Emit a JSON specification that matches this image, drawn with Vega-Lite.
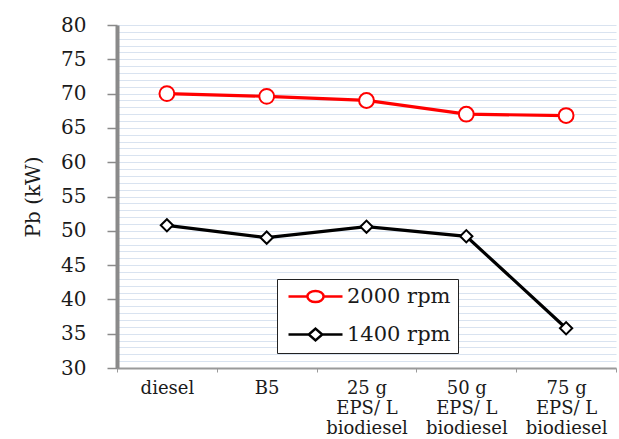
{
  "$schema": "https://vega.github.io/schema/vega-lite/v6.json",
  "autosize": "none",
  "width": 499,
  "height": 343,
  "padding": {"left": 117, "top": 25, "right": 3, "bottom": 71},
  "background": "white",
  "config": {
    "view": {"stroke": null},
    "font": "DejaVu Serif"
  },
  "data": {
    "values": [
      {"fuel": "diesel", "series": "2000 rpm", "pb": 70.0},
      {"fuel": "B5", "series": "2000 rpm", "pb": 69.6},
      {"fuel": "25 g|EPS/ L|biodiesel", "series": "2000 rpm", "pb": 69.0},
      {"fuel": "50 g|EPS/ L|biodiesel", "series": "2000 rpm", "pb": 67.0},
      {"fuel": "75 g|EPS/ L|biodiesel", "series": "2000 rpm", "pb": 66.8},
      {"fuel": "diesel", "series": "1400 rpm", "pb": 50.8},
      {"fuel": "B5", "series": "1400 rpm", "pb": 49.0},
      {"fuel": "25 g|EPS/ L|biodiesel", "series": "1400 rpm", "pb": 50.6},
      {"fuel": "50 g|EPS/ L|biodiesel", "series": "1400 rpm", "pb": 49.2},
      {"fuel": "75 g|EPS/ L|biodiesel", "series": "1400 rpm", "pb": 35.8}
    ]
  },
  "encoding": {
    "x": {
      "field": "fuel",
      "type": "nominal",
      "sort": ["diesel", "B5", "25 g|EPS/ L|biodiesel", "50 g|EPS/ L|biodiesel", "75 g|EPS/ L|biodiesel"],
      "scale": {"paddingInner": 0, "paddingOuter": 0},
      "axis": {
        "title": null,
        "labelAngle": 0,
        "labelExpr": "split(datum.label, '|')",
        "labelFont": "DejaVu Serif",
        "labelFontSize": 18,
        "labelColor": "#1a1a1a",
        "labelLineHeight": 20,
        "labelBaseline": "top",
        "labelPadding": 7,
        "tickBand": "extent",
        "tickSize": 4,
        "tickColor": "#9a9a9a",
        "domainColor": "#9a9a9a",
        "domainWidth": 2,
        "grid": false
      }
    },
    "y": {
      "field": "pb",
      "type": "quantitative",
      "scale": {"domain": [30, 80], "nice": false, "zero": false},
      "axis": {
        "title": "Pb (kW)",
        "titleFont": "DejaVu Serif",
        "titleFontSize": 20,
        "titleFontWeight": "normal",
        "titleColor": "#1a1a1a",
        "titlePadding": 17,
        "values": [30,31,32,33,34,35,36,37,38,39,40,41,42,43,44,45,46,47,48,49,50,51,52,53,54,55,56,57,58,59,60,61,62,63,64,65,66,67,68,69,70,71,72,73,74,75,76,77,78,79,80],
        "labelExpr": "datum.value % 5 === 0 ? datum.label : ''",
        "labelFont": "DejaVu Serif",
        "labelFontSize": 20,
        "labelColor": "#1a1a1a",
        "labelPadding": 21,
        "tickSize": 10,
        "tickColor": "#8a8a8a",
        "tickWidth": 1.5,
        "tickOpacity": {"expr": "datum.value % 5 === 0 ? 1 : 0"},
        "domainColor": "#8a8a8a",
        "domainWidth": 4,
        "grid": true,
        "gridColor": "#d9e3f0",
        "gridWidth": 1.2
      }
    }
  },
  "layer": [
    {
      "mark": {"type": "line", "strokeWidth": 3.2},
      "encoding": {
        "color": {
          "field": "series",
          "type": "nominal",
          "scale": {"domain": ["2000 rpm", "1400 rpm"], "range": ["#ff0000", "#000000"]},
          "legend": {
            "title": null,
            "orient": "none",
            "legendX": 160,
            "legendY": 254,
            "padding": 7,
            "strokeColor": "#222222",
            "fillColor": "white",
            "labelFont": "DejaVu Serif",
            "labelFontSize": 21,
            "labelColor": "#1a1a1a",
            "labelExpr": "datum.label + '\u00a0\u00a0\u00a0'",
            "symbolSize": 324,
            "symbolOffset": 21,
            "labelOffset": 21,
            "rowPadding": 15,
            "encode": {
              "symbols": {
                "update": {
                  "shape": {"signal": "datum.value === '2000 rpm' ? 'M-3,0H-0.9M0.9,0H3M0.9,0A0.9,0.62 0 1,1 -0.9,0A0.9,0.62 0 1,1 0.9,0Z' : 'M-3,0H-0.75M0.75,0H3M0,-0.65L0.75,0L0,0.65L-0.75,0Z'"},
                  "fill": {"value": "white"},
                  "fillOpacity": {"value": 1},
                  "strokeWidth": {"value": 2.5},
                  "opacity": {"value": 1}
                }
              }
            }
          }
        }
      }
    },
    {
      "mark": {"type": "point", "filled": false, "fill": "white", "fillOpacity": 1, "strokeWidth": 2, "opacity": 1},
      "encoding": {
        "stroke": {"field": "series", "type": "nominal", "scale": {"domain": ["1400 rpm", "2000 rpm"], "range": ["#000000", "#ff0000"]}, "legend": null},
        "shape": {"field": "series", "type": "nominal", "scale": {"domain": ["1400 rpm", "2000 rpm"], "range": ["diamond", "circle"]}, "legend": null},
        "size": {"field": "series", "type": "nominal", "scale": {"domain": ["1400 rpm", "2000 rpm"], "range": [150, 220]}, "legend": null}
      }
    }
  ]
}
